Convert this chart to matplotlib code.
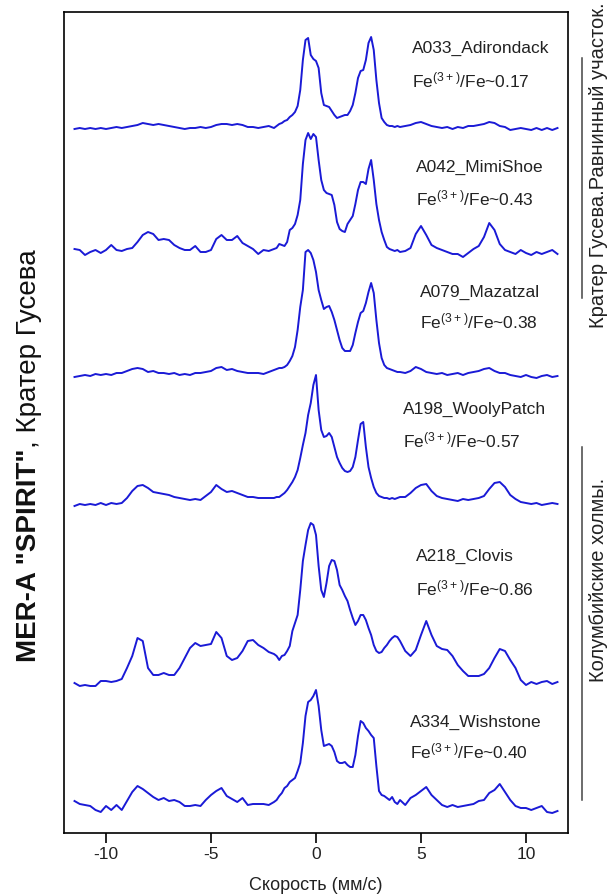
import matplotlib
matplotlib.use("Agg")
import matplotlib.pyplot as plt
from matplotlib.lines import Line2D
import numpy as np

plt.rcParams['font.family'] = ['Liberation Sans', 'DejaVu Sans']
plt.rcParams['mathtext.default'] = 'regular'

# ---- data: velocity channels (mm/s) ----
vel_left = [-11.5, -11.25, -11.0, -10.75, -10.5, -10.25, -10.0, -9.75, -9.5, -9.25,
            -9.0, -8.75, -8.5, -8.25, -8.0, -7.75, -7.5, -7.25, -7.0, -6.75,
            -6.5, -6.25, -6.0, -5.75, -5.5, -5.25, -5.0, -4.75, -4.5, -4.25,
            -4.0, -3.75, -3.5, -3.25, -3.0, -2.75, -2.5, -2.25, -2.0]
vel_center = [-1.875, -1.75, -1.625, -1.5, -1.375, -1.25, -1.125, -1.0,
              -0.875, -0.75, -0.625, -0.5, -0.375, -0.25, -0.125, 0.0,
              0.125, 0.25, 0.375, 0.5, 0.625, 0.75, 0.875, 1.0,
              1.125, 1.25, 1.375, 1.5, 1.625, 1.75, 1.875, 2.0,
              2.125, 2.25, 2.375, 2.5, 2.625, 2.75, 2.875, 3.0,
              3.125, 3.25, 3.375, 3.5, 3.625, 3.75, 3.875, 4.0]
vel_right = [4.25, 4.5, 4.75, 5.0, 5.25, 5.5, 5.75, 6.0, 6.25, 6.5,
             6.75, 7.0, 7.25, 7.5, 7.75, 8.0, 8.25, 8.5, 8.75, 9.0,
             9.25, 9.5, 9.75, 10.0, 10.25, 10.5, 10.75, 11.0, 11.25, 11.5]
velocity = vel_left + vel_center + vel_right

# ---- relative absorption (arbitrary units) ----
a033 = ([0, 1, 0, 1, 0, 1, 0, 1, 2, 1, 2, 3, 4, 6, 5, 4, 5, 4, 3, 2, 1, 0, 1, 1, 2, 1, 2, 4, 5, 5, 4, 5, 4, 2, 2, 1, 2, 3, 1]
        + [3, 5, 6, 8, 9, 12, 14, 17, 23, 39, 69, 89, 91, 74, 70, 68, 61, 36, 24, 23, 22, 18, 14, 11,
           12, 13, 14, 14, 18, 24, 36, 51, 58, 59, 69, 86, 92, 79, 49, 26, 11, 7, 4, 3, 3, 2, 3, 2]
        + [3, 4, 6, 7, 5, 3, 2, 1, 2, 0, 2, 1, 3, 3, 4, 5, 7, 6, 3, 2, -1, 0, 1, 0, -1, 1, -1, 1, -1, 1])
a042 = ([3, 2, -3, 0, 2, -1, 2, 7, 2, 1, 3, 4, 10, 17, 20, 18, 12, 13, 12, 7, 4, 2, 2, 6, 0, 0, 2, 13, 17, 12, 12, 16, 9, 6, 3, -2, 2, 1, 3]
        + [4, 8, 7, 6, 10, 22, 24, 28, 37, 52, 88, 112, 119, 113, 118, 115, 92, 72, 62, 59, 58, 57, 47, 30,
           23, 21, 20, 28, 32, 36, 48, 62, 70, 70, 68, 83, 92, 72, 48, 32, 20, 12, 5, 3, 2, 1, 2, 0]
        + [1, 4, 18, 26, 17, 7, 4, 2, 0, -2, -2, -5, -1, 3, 6, 15, 29, 22, 8, 2, 0, -2, 2, -1, -3, 0, -2, 0, 2, -2])
a079 = ([-2, -1, 0, -1, 1, 0, 1, 0, 2, 2, 4, 6, 7, 6, 3, 4, 2, 2, 1, 2, 0, 1, 0, 2, 2, 3, 4, 7, 8, 5, 6, 4, 3, 2, 2, 2, 1, 3, 5]
        + [6, 7, 7, 8, 10, 14, 19, 28, 45, 68, 85, 123, 125, 122, 115, 103, 85, 75, 66, 68, 69, 63, 55, 45,
           35, 27, 24, 24, 24, 30, 42, 53, 62, 64, 72, 83, 92, 82, 55, 32, 17, 10, 7, 6, 5, 4, 3, 3]
        + [2, 4, 8, 6, 3, 2, 1, 2, 0, 1, 2, 0, 2, 3, 4, 6, 7, 4, 2, 2, 0, -1, -2, 0, -2, -3, -1, 0, -2, -1])
a198 = ([-1, 1, 0, 1, 0, 2, 0, 2, 1, 2, 7, 14, 19, 20, 17, 13, 12, 11, 10, 8, 7, 6, 5, 6, 5, 9, 13, 20, 16, 13, 14, 12, 10, 8, 8, 7, 7, 7, 7]
        + [8, 8, 10, 12, 15, 19, 23, 28, 35, 47, 60, 72, 90, 102, 120, 130, 95, 75, 68, 69, 72, 68, 58, 48,
           42, 37, 34, 33, 34, 38, 48, 65, 81, 83, 58, 38, 27, 18, 12, 9, 8, 7, 7, 6, 7, 6, 7, 8]
        + [8, 12, 17, 20, 21, 14, 9, 7, 6, 5, 4, 6, 5, 6, 7, 9, 16, 22, 23, 18, 10, 6, 3, 2, 1, 2, 0, 1, 2, 1])
a218 = ([0, -3, -2, -3, -3, 2, 2, 1, 2, 4, 15, 27, 45, 42, 15, 8, 8, 10, 8, 8, 15, 25, 35, 40, 37, 38, 39, 51, 45, 27, 23, 25, 32, 42, 43, 38, 35, 31, 29]
        + [27, 23, 27, 28, 32, 37, 52, 60, 68, 93, 122, 138, 153, 160, 158, 148, 117, 93, 86, 100, 117, 123, 122, 113,
           98, 93, 87, 82, 73, 65, 58, 62, 68, 68, 63, 55, 48, 38, 32, 30, 31, 35, 38, 42, 45, 47, 46, 42]
        + [32, 27, 33, 48, 62, 48, 37, 34, 33, 27, 18, 12, 7, 7, 7, 9, 15, 25, 34, 32, 23, 15, 3, -2, 1, -1, 1, 2, -1, 1])
a334 = ([7, 4, 3, 2, -2, -4, 2, -2, 3, -2, 7, 16, 22, 19, 15, 11, 8, 10, 7, 8, 6, 2, 2, 3, 2, 8, 13, 17, 20, 12, 9, 6, 10, 3, 4, 4, 4, 3, 6]
        + [8, 12, 15, 20, 22, 26, 28, 30, 37, 45, 65, 92, 106, 108, 112, 118, 102, 78, 62, 63, 64, 62, 56, 47,
           45, 45, 46, 43, 41, 41, 53, 72, 87, 85, 80, 77, 73, 70, 42, 17, 13, 12, 10, 8, 11, 6, 4, 8]
        + [3, 10, 13, 17, 21, 13, 8, 3, 1, 3, 1, 2, 3, 4, 7, 8, 15, 18, 24, 16, 8, 2, 0, 0, -2, 0, 2, -4, -5, -3])

spectra = [a033, a042, a079, a198, a218, a334]
names = ["A033_Adirondack", "A042_MimiShoe", "A079_Mazatzal",
         "A198_WoolyPatch", "A218_Clovis", "A334_Wishstone"]
ratios = ["0.17", "0.43", "0.38", "0.57", "0.86", "0.40"]

# ---- layout (vertical stacking offsets & label anchors) ----
offsets = [704, 581, 458, 328, 150, 25]
label_x_px = [412, 416, 420, 403, 416, 410]
name_base_px = [53, 172, 297, 414, 561, 727]
fe_base_px = [87, 205, 328, 447, 595, 758]

W, H = 610, 894
fig = plt.figure(figsize=(W / 100, H / 100), dpi=100)
ax_l, ax_r, ax_t, ax_b = 64, 568, 12, 833
ax = fig.add_axes([ax_l / W, 1 - ax_b / H, (ax_r - ax_l) / W, (ax_b - ax_t) / H])
ax.set_xlim(-12, 12)
ax.set_ylim(0, ax_b - ax_t)

blue = '#1a1ad6'
v = np.array(velocity)
for s, off in zip(spectra, offsets):
    ax.plot(v, np.array(s) + off, color=blue, lw=1.4)

def px_to_data(px, py):
    xd = -12 + (px - ax_l) / (ax_r - ax_l) * 24
    yd = ax_b - py
    return xd, yd

for i in range(6):
    x, y = px_to_data(label_x_px[i], name_base_px[i])
    ax.text(x, y, names[i], fontsize=12.5, ha='left', va='baseline', color='#222222')
    x, y = px_to_data(label_x_px[i], fe_base_px[i])
    ax.text(x, y, 'Fe$^{(3+)}$/Fe~' + ratios[i], fontsize=12.5, ha='left', va='baseline', color='#222222')

for sp in ax.spines.values():
    sp.set_linewidth(1.2)
ax.set_yticks([])
ax.set_xticks([-10, -5, 0, 5, 10])
ax.set_xticklabels(['-10', '-5', '0', '5', '10'])
ax.tick_params(axis='x', direction='out', length=7, width=1.2, pad=3, labelsize=12.5, labelcolor='#222222')

fig.text(316 / W, 1 - 885 / H, 'Скорость (мм/с)', fontsize=13, ha='center', va='center', color='#222222')

# left title in two parts
t1 = fig.text(29 / W, 1 - 662 / H, 'MER-A "SPIRIT"', fontsize=20, fontweight='bold',
              rotation=90, rotation_mode='anchor', ha='left', va='center', color='#111111')
fig.canvas.draw()
bb = t1.get_window_extent()
top_px = bb.y1
fig.text(29 / W, top_px / H, ', Кратер Гусева', fontsize=20,
         rotation=90, rotation_mode='anchor', ha='left', va='center', color='#111111')

# right side group labels
fig.text(598 / W, 1 - 165 / H, 'Кратер Гусева.Равнинный участок.', fontsize=14.5,
         rotation=90, ha='center', va='center', color='#222222')
fig.text(598 / W, 1 - 580 / H, 'Колумбийские холмы.', fontsize=14.5,
         rotation=90, ha='center', va='center', color='#222222')
for y0, y1 in [(58, 298), (447, 800)]:
    fig.add_artist(Line2D([582 / W, 582 / W], [1 - y0 / H, 1 - y1 / H],
                          transform=fig.transFigure, color='#444444', lw=1.1))

fig.savefig('out.png', dpi=100)
